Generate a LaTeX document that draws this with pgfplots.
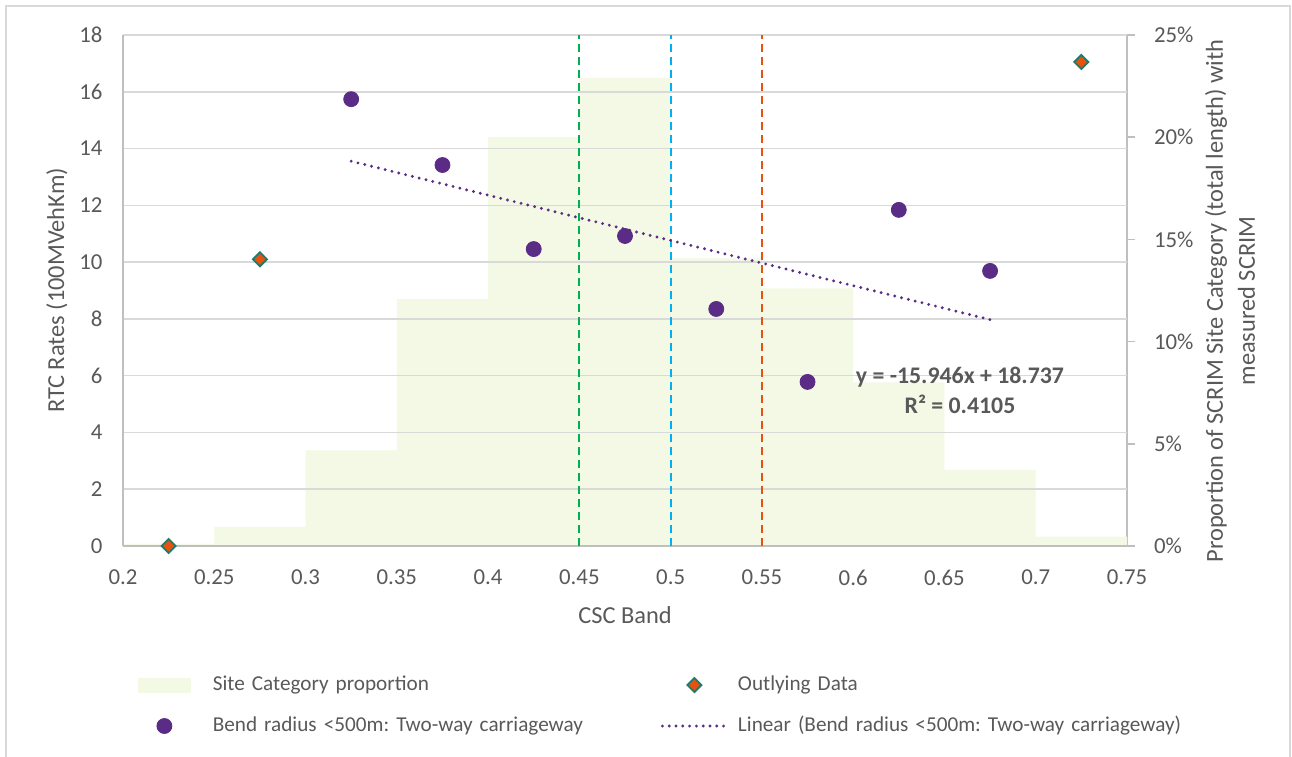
\documentclass[border=0pt]{standalone}
\usepackage{pgfplots}
\pgfplotsset{compat=1.18}
\usepackage{fontspec}
\setmainfont{Carlito}
\frenchspacing
\definecolor{textgray}{HTML}{595959}
\definecolor{gridgray}{HTML}{D9D9D9}
\definecolor{axisgray}{HTML}{BFBFBF}
\definecolor{framegray}{HTML}{D9D9D9}
\definecolor{barfill}{HTML}{F3F9E4}
\definecolor{ptpurple}{HTML}{5B2C86}
\definecolor{dfill}{HTML}{E9520E}
\definecolor{dedge}{HTML}{1E7B6C}
\definecolor{vgreen}{HTML}{00B050}
\definecolor{vcyan}{HTML}{00B0F0}
\definecolor{vorange}{HTML}{E9520E}
\pgfplotsset{
  legbar/.style={legend image code/.code={\fill[barfill] (0pt,-3.5pt) rectangle (26pt,3.5pt);}},
  legdiam/.style={legend image code/.code={\draw[only marks, mark=square*, mark size=2.5pt, mark options={rotate=45, fill=dfill, draw=dedge, line width=0.9pt}] plot coordinates {(16pt,0pt)};}},
  legcirc/.style={legend image code/.code={\draw[only marks, mark=*, mark size=3.75pt, mark options={fill=ptpurple, draw=ptpurple}] plot coordinates {(13pt,0pt)};}},
  legline/.style={legend image code/.code={\draw[ptpurple, line width=1.6pt, line cap=round, dash pattern=on 0pt off 3.4pt] (0pt,0pt) -- (32pt,0pt);}},
}
\begin{document}
\begin{tikzpicture}
\path[use as bounding box] (0pt,0pt) rectangle (646pt,378pt);
\draw[framegray, line width=0.75pt] (3pt,-5pt) -- (3pt,375pt) -- (645pt,375pt) -- (645pt,-5pt);
% secondary axis with bars
\begin{axis}[
  at={(61.5pt,105pt)}, anchor=south west,
  width=502pt, height=255.5pt, scale only axis,
  xmin=0.2, xmax=0.75, ymin=0, ymax=0.25,
  axis x line=none,
  axis y line*=right,
  y axis line style={draw=axisgray, line width=0.75pt},
  ytick={0,0.05,0.1,0.15,0.2,0.25},
  yticklabels={0\%,5\%,10\%,15\%,20\%,25\%},
  tick align=outside,
  major tick length=4pt,
  tick style={draw=axisgray, line width=0.75pt},
  yticklabel style={font=\fontsize{11.4}{13}\selectfont, text=textgray, xshift=6pt},
  /pgf/number format/assume math mode=true,
]
\addplot[ybar interval=1, fill=barfill, draw=none] coordinates {
 (0.2,0.001) (0.25,0.0094) (0.3,0.0468) (0.35,0.1208) (0.4,0.200) (0.45,0.229)
 (0.5,0.1407) (0.55,0.126) (0.6,0.080) (0.65,0.0372) (0.7,0.0046) (0.75,0.0046)};
\end{axis}
% primary axis
\begin{axis}[
  at={(61.5pt,105pt)}, anchor=south west,
  width=502pt, height=255.5pt, scale only axis,
  xmin=0.2, xmax=0.75, ymin=0, ymax=18,
  axis x line*=bottom, axis y line*=left,
  axis line style={draw=axisgray, line width=0.75pt},
  xtick={0.2,0.25,0.3,0.35,0.4,0.45,0.5,0.55,0.6,0.65,0.7,0.75},
  xticklabels={0.2,0.25,0.3,0.35,0.4,0.45,0.5,0.55,0.6,0.65,0.7,0.75},
  ytick={0,2,4,6,8,10,12,14,16,18},
  yticklabels={0,2,4,6,8,10,12,14,16,18},
  major tick length=0pt,
  ymajorgrids, grid style={draw=gridgray, line width=0.75pt},
  ticklabel style={font=\fontsize{11.4}{13}\selectfont, text=textgray},
  yticklabel style={xshift=-6.7pt},
  xticklabel style={yshift=-8.5pt},
  /pgf/number format/assume math mode=true,
  clip=false,
  legend columns=2,
  legend style={draw=none, fill=none, inner sep=0pt, outer sep=0pt,
    at={(0.01494,-0.2515)}, anchor=north west,
    font=\fontsize{10.6}{12}\selectfont, text=textgray,
    nodes={inner sep=0pt, text height=8pt, text depth=2.5pt, text width=224pt, align=left},
    cells={anchor=west},
    row sep=10pt,
    /tikz/column 1/.style={column sep=11pt},
    /tikz/column 2/.style={column sep=0pt},
    /tikz/column 3/.style={column sep=5pt}},
]
\addplot[forget plot, vgreen, line width=1pt, dash pattern=on 4pt off 2.5pt] coordinates {(0.45,0) (0.45,18)};
\addplot[forget plot, vcyan, line width=1pt, dash pattern=on 4pt off 2.5pt] coordinates {(0.5,0) (0.5,18)};
\addplot[forget plot, vorange, line width=1pt, dash pattern=on 4pt off 2.5pt] coordinates {(0.55,0) (0.55,18)};
\addlegendimage{legbar}
\addlegendentry{Site Category proportion}
\addplot[only marks, mark=square*, mark size=2.5pt,
  mark options={rotate=45, fill=dfill, draw=dedge, line width=0.9pt}, legdiam]
  coordinates {(0.225,0) (0.275,10.1) (0.725,17.05)};
\addlegendentry{Outlying Data}
\addplot[only marks, mark=*, mark size=3.75pt,
  mark options={fill=ptpurple, draw=ptpurple}, legcirc]
  coordinates {(0.325,15.74) (0.375,13.42) (0.425,10.46) (0.475,10.92)
               (0.525,8.35) (0.575,5.78) (0.625,11.84) (0.675,9.69)};
\addlegendentry{Bend radius <500m: Two-way carriageway}
\addplot[ptpurple, line width=1.6pt, line cap=round, dash pattern=on 0pt off 3.5pt, legline]
  coordinates {(0.325,13.55455) (0.675,7.97345)};
\addlegendentry{Linear (Bend radius <500m: Two-way carriageway)}
\node[font=\bfseries\fontsize{11.9}{15}\selectfont, text=textgray, align=center]
  at (axis cs:0.6585,5.49) {y = -15.946x + 18.737\\R² = 0.4105};
\end{axis}
\node[rotate=90, font=\fontsize{12.2}{14}\selectfont, text=textgray] at (28.5pt,232.75pt) {RTC Rates (100MVehKm)};
\node[font=\fontsize{12.2}{14}\selectfont, text=textgray] at (312.5pt,70.5pt) {CSC Band};
\node[rotate=90, font=\fontsize{12.2}{16}\selectfont, text=textgray, align=center] at (615pt,227.5pt) {Proportion of SCRIM Site Category (total length) with\\measured SCRIM};
\end{tikzpicture}
\end{document}
